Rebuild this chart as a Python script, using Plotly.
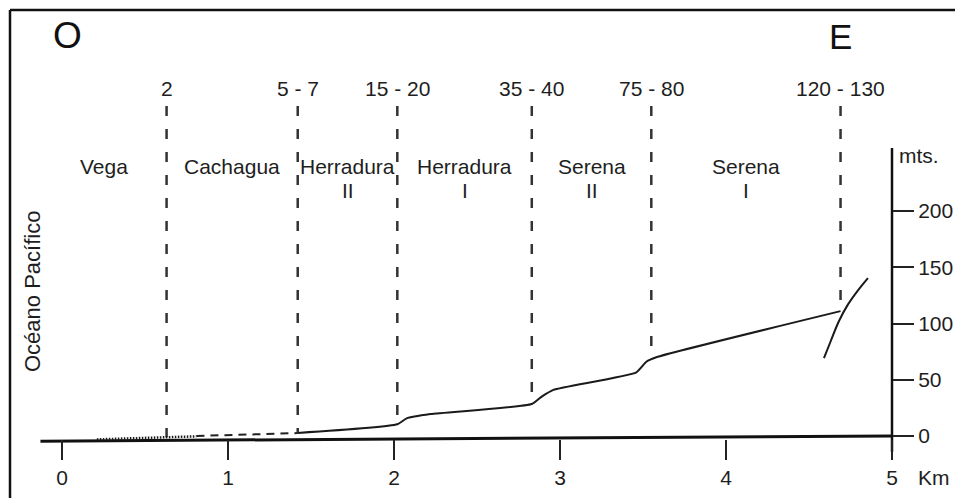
import plotly.graph_objects as go

# ---------------- data ----------------
km_ticks = [0, 1, 2, 3, 4, 5]
km_tick_text = ["0", "1", "2", "3", "4", "5"]
m_ticks = [0, 50, 100, 150, 200]
m_tick_text = ["0", "50", "100", "150", "200"]

# terrace boundaries (km) with their altitude ranges (m)
boundary_km = [0.63, 1.42, 2.02, 2.83, 3.55, 4.69]
boundary_alt_labels = ["2", "5 - 7", "15 - 20", "35 - 40", "75 - 80", "120 - 130"]
boundary_base_m = [-1.0, 2.7, 10.4, 28.4, 70.0, 111.0]

terrace_names = ["Vega", "Cachagua", "Herradura", "Herradura", "Serena", "Serena"]
terrace_levels = ["", "", "II", "I", "II", "I"]

# topographic profile
profile_km = [1.42, 2.02, 2.076, 2.22, 2.83, 2.89, 2.96, 3.46, 3.52, 3.58, 4.69]
profile_m = [2.7, 10.4, 15.7, 19.5, 28.4, 35.0, 41.0, 56.6, 66.0, 70.0, 111.0]

dotted_km = [0.21, 0.81]
dotted_m = [-3.0, -0.3]
dashed_km = [0.81, 1.42]
dashed_m = [0.0, 2.6]

escarp_km = [4.59, 4.63, 4.68, 4.735, 4.795, 4.855]
escarp_m = [69.3, 84.0, 102.0, 117.0, 129.5, 140.4]

baseline_km = [-0.13, 5.0]
baseline_m = [-4.6, 0.0]

right_axis_m = [-14.0, 256.0]

# ---------------- layout constants ----------------
W, H = 955, 498
PX_PER_KM = 166.0
X0_PX = 62.0
PX_PER_M = 1.125
Y0_PX = 436.0
x_range = [-X0_PX / PX_PER_KM, (W - X0_PX) / PX_PER_KM]
y_range = [-(H - Y0_PX) / PX_PER_M, Y0_PX / PX_PER_M]

def kx(px):
    return (px - X0_PX) / PX_PER_KM

def my(py):
    return (Y0_PX - py) / PX_PER_M

FONT = "Liberation Sans, Arial, Helvetica, sans-serif"
TXT = "#1e1e1e"
FS = 21
DASH_TOP = my(106)

fig = go.Figure()

# baseline (sea level)
fig.add_trace(go.Scatter(x=baseline_km, y=baseline_m, mode="lines",
                         line=dict(color="#111111", width=3), hoverinfo="skip"))
# right altitude axis line
fig.add_trace(go.Scatter(x=[km_ticks[-1], km_ticks[-1]], y=right_axis_m, mode="lines",
                         line=dict(color="#111111", width=2.5), hoverinfo="skip"))

# terrace boundaries
for bk, bm in zip(boundary_km, boundary_base_m):
    fig.add_trace(go.Scatter(x=[bk, bk], y=[DASH_TOP, bm], mode="lines",
                             line=dict(color="#333333", width=2.5, dash="10px,13px"),
                             hoverinfo="skip"))

# profile
fig.add_trace(go.Scatter(x=dotted_km, y=dotted_m, mode="lines",
                         line=dict(color="#1a1a1a", width=2.5, dash="1.5px,1.5px"), hoverinfo="skip"))
fig.add_trace(go.Scatter(x=dashed_km, y=dashed_m, mode="lines",
                         line=dict(color="#222222", width=2, dash="8px,6px"), hoverinfo="skip"))
fig.add_trace(go.Scatter(x=profile_km, y=profile_m, mode="lines",
                         line=dict(color="#1a1a1a", width=2, shape="spline", smoothing=0.5),
                         hoverinfo="skip"))
fig.add_trace(go.Scatter(x=escarp_km, y=escarp_m, mode="lines",
                         line=dict(color="#1a1a1a", width=2, shape="spline", smoothing=1.0),
                         hoverinfo="skip"))

annotations = []
# altitude range labels above boundaries
for bk, lab in zip(boundary_km, boundary_alt_labels):
    annotations.append(dict(x=bk, y=my(88), text=lab, showarrow=False,
                            font=dict(family=FONT, size=FS, color=TXT),
                            xanchor="center", yanchor="middle"))
# terrace names between boundaries
edges = [baseline_km[0]] + boundary_km
for i, (name, lvl) in enumerate(zip(terrace_names, terrace_levels)):
    cx = (edges[i] + edges[i + 1]) / 2
    annotations.append(dict(x=cx, y=my(166), text=name, showarrow=False,
                            font=dict(family=FONT, size=FS, color=TXT),
                            xanchor="center", yanchor="middle"))
    if lvl:
        annotations.append(dict(x=cx, y=my(190), text=lvl, showarrow=False,
                                font=dict(family=FONT, size=FS, color=TXT),
                                xanchor="center", yanchor="middle"))

annotations += [
    dict(x=kx(67), y=my(35), text="O", showarrow=False,
         font=dict(family=FONT, size=37, color="#111111"), xanchor="center", yanchor="middle"),
    dict(x=kx(840), y=my(36), text="E", showarrow=False,
         font=dict(family=FONT, size=35, color="#111111"), xanchor="center", yanchor="middle"),
    dict(x=kx(32), y=my(292), text="Océano Pacífico", showarrow=False, textangle=-90,
         font=dict(family=FONT, size=22, color=TXT), xanchor="center", yanchor="middle"),
    dict(x=kx(897), y=my(155), text="mts.", showarrow=False,
         font=dict(family=FONT, size=FS, color=TXT), xanchor="left", yanchor="middle"),
    dict(x=kx(916), y=my(477), text="Km", showarrow=False,
         font=dict(family=FONT, size=FS, color=TXT), xanchor="left", yanchor="middle"),
]

shapes = [
    dict(type="line", xref="paper", yref="paper", x0=10 / W, x1=10 / W, y0=0, y1=1 - 10 / H,
         line=dict(color="#111111", width=2.5)),
    dict(type="line", xref="paper", yref="paper", x0=10 / W, x1=1, y0=1 - 10 / H, y1=1 - 10 / H,
         line=dict(color="#111111", width=2.5)),
]

fig.update_layout(
    width=W, height=H,
    margin=dict(l=0, r=0, t=0, b=0),
    paper_bgcolor="white", plot_bgcolor="white",
    showlegend=False,
    annotations=annotations,
    shapes=shapes,
    xaxis=dict(range=x_range, anchor="free", position=(H - 439) / H,
               showgrid=False, zeroline=False, showline=False,
               ticks="outside", ticklen=20, tickwidth=2, tickcolor="#222222",
               tickvals=km_ticks, ticktext=km_tick_text, ticklabelstandoff=0,
               tickfont=dict(family=FONT, size=FS, color=TXT), automargin=False, fixedrange=True),
    yaxis=dict(range=y_range, anchor="free", side="right", position=892 / W,
               showgrid=False, zeroline=False, showline=False,
               ticks="outside", ticklen=21, tickwidth=2, tickcolor="#222222",
               tickvals=m_ticks, ticktext=m_tick_text,
               tickfont=dict(family=FONT, size=FS, color=TXT), automargin=False, fixedrange=True),
)

fig.write_html(
    "out.html",
    config={"displayModeBar": False, "staticPlot": True},
    post_script="document.body.style.margin='0';document.body.style.padding='0';"
                "document.body.style.overflow='hidden';",
)
